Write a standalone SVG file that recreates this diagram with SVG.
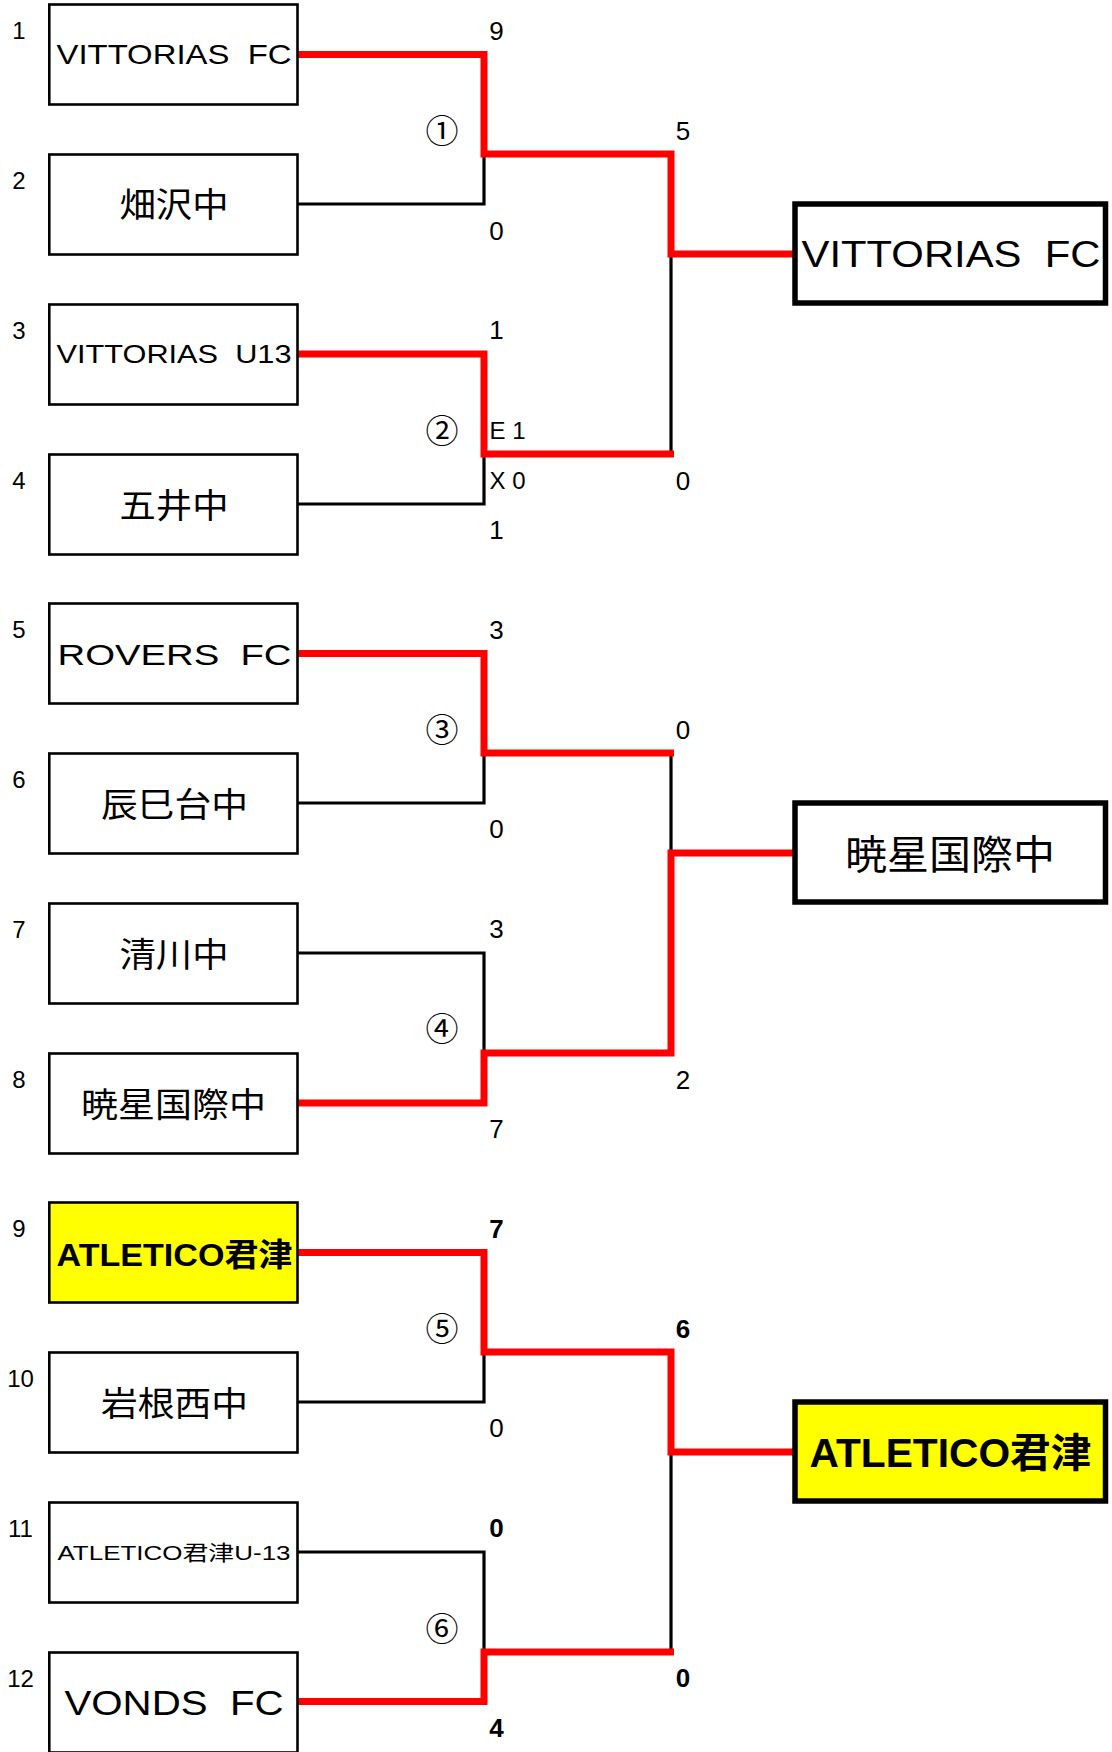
<svg xmlns="http://www.w3.org/2000/svg" width="1112" height="1752" viewBox="0 0 1112 1752">
<style>
.box{fill:#fff;stroke:#000;stroke-width:2.6}
.win{fill:#ff0;stroke:#000;stroke-width:2.6}
.fbox{fill:#fff;stroke:#000;stroke-width:5.5}
.fwin{fill:#ff0;stroke:#000;stroke-width:5.5}
.lat{font-family:"Liberation Sans","Noto Sans CJK JP",sans-serif;fill:#000;white-space:pre;text-anchor:middle}
.cjk{font-family:"Noto Sans CJK JP","Liberation Sans",sans-serif;fill:#000;text-anchor:middle}
.num{font-family:"Liberation Sans",sans-serif;font-size:24px;text-anchor:middle;fill:#000}
.sc{font-family:"Liberation Sans",sans-serif;font-size:26px;text-anchor:middle;fill:#000}
.b{font-weight:bold}
.ex{font-family:"Liberation Sans",sans-serif;font-size:24px;fill:#000;white-space:pre}
.circ{font-family:"Noto Sans CJK JP",sans-serif;font-size:33px;text-anchor:middle;fill:#000}
.blk{fill:none;stroke:#000;stroke-width:3.2}
.red{fill:none;stroke:#f00;stroke-width:7;stroke-linejoin:miter}
</style>

<g id="connectors">
  <path class="blk" d="M297.5 204 H484 V154"/>
  <path class="blk" d="M297.5 504 H484 V454"/>
  <path class="blk" d="M671 454 V254"/>
  <path class="blk" d="M297.5 803 H484 V753"/>
  <path class="blk" d="M297.5 953 H484 V1053"/>
  <path class="blk" d="M671 753 V853"/>
  <path class="blk" d="M297.5 1402 H484 V1352"/>
  <path class="blk" d="M297.5 1552 H484 V1652"/>
  <path class="blk" d="M671 1652 V1452"/>
  <path class="red" d="M297.5 54.5 H484 V154 H671 V254 H795"/>
  <path class="red" d="M297.5 354 H484 V454 H674"/>
  <path class="red" d="M297.5 653.5 H484 V753 H674"/>
  <path class="red" d="M297.5 1103 H484 V1053 H671 V853 H795"/>
  <path class="red" d="M297.5 1252.5 H484 V1352 H671 V1452 H795"/>
  <path class="red" d="M297.5 1701.5 H484 V1652 H674"/>
</g>

<g id="seeds">
  <text class="num" x="19" y="39">1</text>
  <text class="num" x="19" y="189">2</text>
  <text class="num" x="19" y="339">3</text>
  <text class="num" x="19" y="489">4</text>
  <text class="num" x="19" y="638">5</text>
  <text class="num" x="19" y="788">6</text>
  <text class="num" x="19" y="938">7</text>
  <text class="num" x="19" y="1088">8</text>
  <text class="num" x="19" y="1237">9</text>
  <text class="num" x="20.5" y="1387">10</text>
  <text class="num" x="20.5" y="1537">11</text>
  <text class="num" x="20.5" y="1687">12</text>
</g>

<g id="team1"><rect class="box" x="49.3" y="4.5" width="248.2" height="100"/>
  <text class="lat" x="174" y="63.5" font-size="28" textLength="235" lengthAdjust="spacingAndGlyphs">VITTORIAS  FC</text></g>
<g id="team2"><rect class="box" x="49.3" y="154.5" width="248.2" height="100"/>
  <text class="cjk" x="174" y="217" font-size="34" textLength="109" lengthAdjust="spacingAndGlyphs">畑沢中</text></g>
<g id="team3"><rect class="box" x="49.3" y="304.5" width="248.2" height="100"/>
  <text class="lat" x="174" y="363" font-size="25" textLength="235" lengthAdjust="spacingAndGlyphs">VITTORIAS  U13</text></g>
<g id="team4"><rect class="box" x="49.3" y="454.5" width="248.2" height="100"/>
  <text class="cjk" x="174" y="517.5" font-size="34" textLength="109" lengthAdjust="spacingAndGlyphs">五井中</text></g>
<g id="team5"><rect class="box" x="49.3" y="603.5" width="248.2" height="100"/>
  <text class="lat" x="174.5" y="665" font-size="30" textLength="234" lengthAdjust="spacingAndGlyphs">ROVERS  FC</text></g>
<g id="team6"><rect class="box" x="49.3" y="753.5" width="248.2" height="100"/>
  <text class="cjk" x="174.6" y="816.5" font-size="34" textLength="147" lengthAdjust="spacingAndGlyphs">辰巳台中</text></g>
<g id="team7"><rect class="box" x="49.3" y="903.5" width="248.2" height="100"/>
  <text class="cjk" x="174" y="966.5" font-size="34" textLength="109" lengthAdjust="spacingAndGlyphs">清川中</text></g>
<g id="team8"><rect class="box" x="49.3" y="1053.5" width="248.2" height="100"/>
  <text class="cjk" x="173.6" y="1116.5" font-size="34" textLength="185" lengthAdjust="spacingAndGlyphs">暁星国際中</text></g>
<g id="team9"><rect class="win" x="49.3" y="1202.5" width="248.2" height="100"/>
  <text class="lat b" x="174.6" y="1265.5" font-size="32" textLength="236" lengthAdjust="spacingAndGlyphs">ATLETICO君津</text></g>
<g id="team10"><rect class="box" x="49.3" y="1352.5" width="248.2" height="100"/>
  <text class="cjk" x="174.6" y="1415.5" font-size="34" textLength="147" lengthAdjust="spacingAndGlyphs">岩根西中</text></g>
<g id="team11"><rect class="box" x="49.3" y="1502.5" width="248.2" height="100"/>
  <text class="lat" x="174" y="1560" font-size="21" textLength="233" lengthAdjust="spacingAndGlyphs">ATLETICO君津U-13</text></g>
<g id="team12"><rect class="box" x="49.3" y="1652.5" width="248.2" height="100"/>
  <text class="lat" x="174" y="1715" font-size="35" textLength="219" lengthAdjust="spacingAndGlyphs">VONDS  FC</text></g>

<g id="winner1"><rect class="fbox" x="795" y="204" width="310.5" height="99"/>
  <text class="lat" x="951" y="266.5" font-size="37" textLength="299" lengthAdjust="spacingAndGlyphs">VITTORIAS  FC</text></g>
<g id="winner2"><rect class="fbox" x="795" y="803" width="310.5" height="99"/>
  <text class="cjk" x="950" y="868.5" font-size="40" textLength="210" lengthAdjust="spacingAndGlyphs">暁星国際中</text></g>
<g id="winner3"><rect class="fwin" x="795" y="1402" width="310.5" height="99"/>
  <text class="lat b" x="950.5" y="1466.5" font-size="40" textLength="282" lengthAdjust="spacingAndGlyphs">ATLETICO君津</text></g>

<g id="matches">
  <text class="circ" x="442" y="142.5">①</text>
  <text class="circ" x="442" y="442.5">②</text>
  <text class="circ" x="442" y="741.5">③</text>
  <text class="circ" x="442" y="1040.5">④</text>
  <text class="circ" x="442" y="1340.5">⑤</text>
  <text class="circ" x="442" y="1640.5">⑥</text>
</g>

<g id="scores">
  <text class="sc" x="496.4" y="39.5">9</text>
  <text class="sc" x="496.4" y="239.5">0</text>
  <text class="sc" x="496.4" y="339">1</text>
  <text class="sc" x="496.4" y="539">1</text>
  <text class="ex" x="489.5" y="439">E 1</text>
  <text class="ex" x="489.5" y="489">X 0</text>
  <text class="sc" x="683" y="139.5">5</text>
  <text class="sc" x="683" y="489.5">0</text>

  <text class="sc" x="496.4" y="638.5">3</text>
  <text class="sc" x="496.4" y="837.5">0</text>
  <text class="sc" x="496.4" y="938">3</text>
  <text class="sc" x="496.4" y="1137.5">7</text>
  <text class="sc" x="683" y="738.5">0</text>
  <text class="sc" x="683" y="1088.5">2</text>

  <text class="sc b" x="496.4" y="1237.5">7</text>
  <text class="sc" x="496.4" y="1437">0</text>
  <text class="sc b" x="496.4" y="1537">0</text>
  <text class="sc b" x="496.4" y="1737">4</text>
  <text class="sc b" x="683" y="1337.5">6</text>
  <text class="sc b" x="683" y="1687">0</text>
</g>
</svg>
